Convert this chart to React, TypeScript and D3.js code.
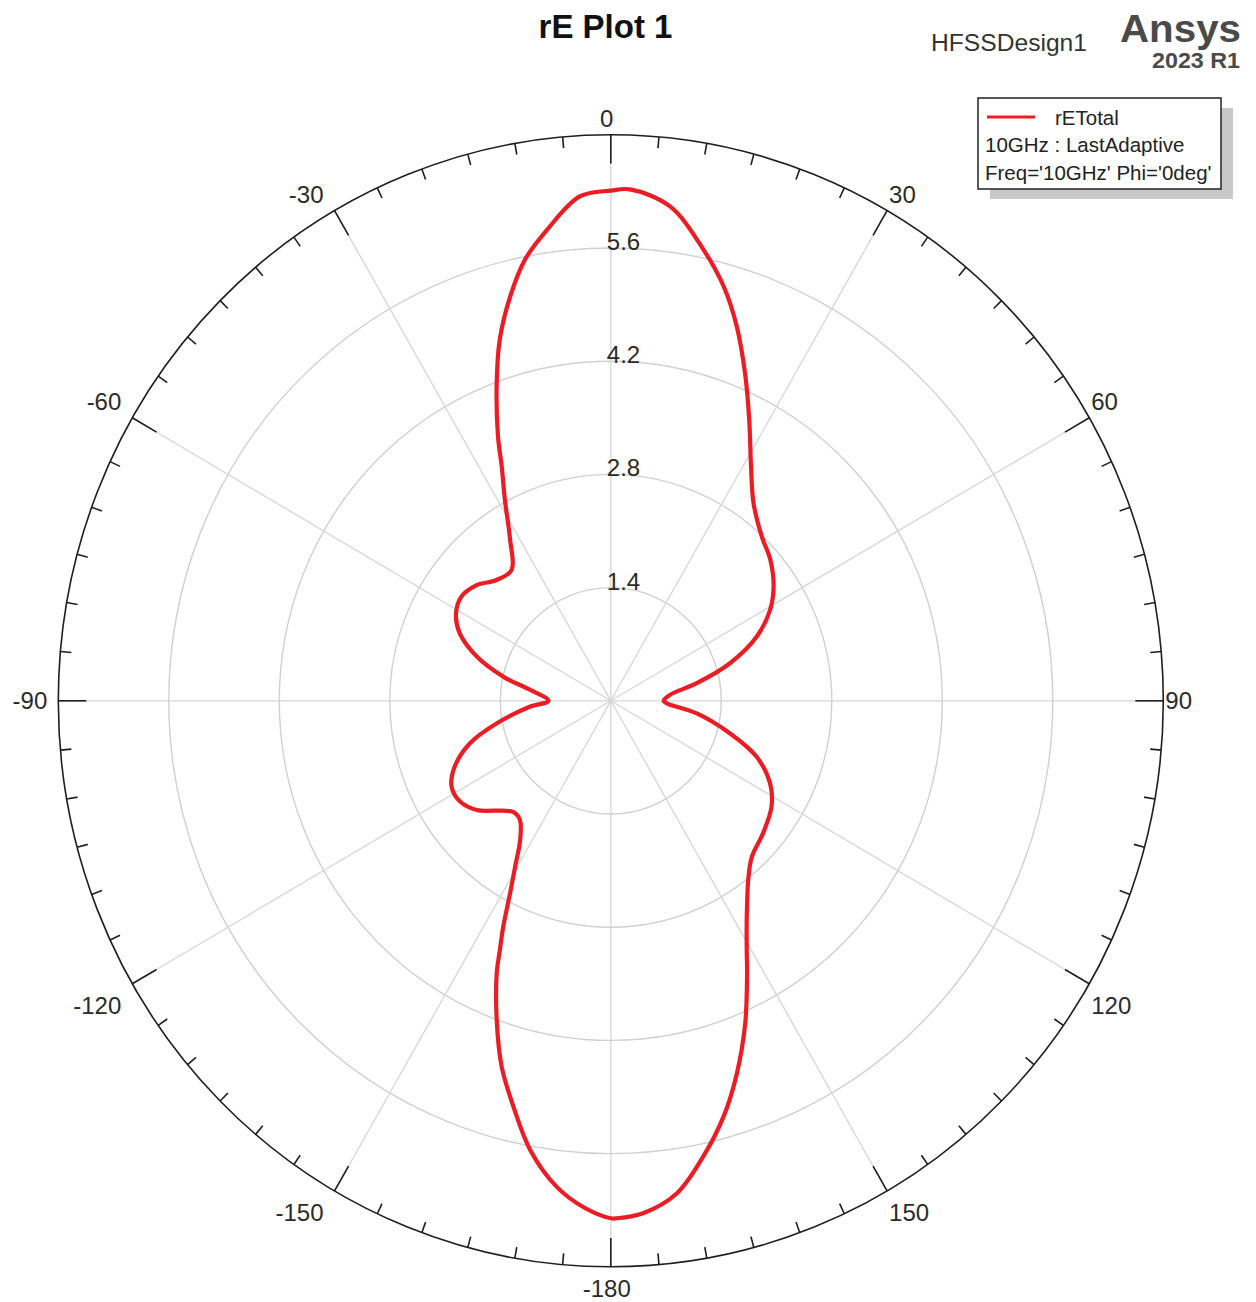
import * as React from "react";
import * as d3 from "d3";

// rETotal vs theta (deg), Phi = 0deg
const thetaDeg = [
  -180, -176.8, -173.5, -169.6, -166.2, -163.0, -160.1, -156.8, -155.5, -154.0,
  -151.8, -149.4, -146.3, -142.0, -138.0, -128.5, -123.1, -117.8, -112.4, -106.4,
  -100.9, -94.1, -90, -82.5, -77.7, -72.2, -66.4, -61.1, -55.7, -49.9,
  -44.1, -37.8, -32.7, -28.4, -25.5, -23.6, -20.4, -17.5, -14.3, -11.3,
  -7.9, -3.6, 0, 2.2, 7.0, 11.9, 15.6, 19.0, 22.8, 26.8,
  31.5, 36.5, 43.3, 49.2, 55.6, 60.9, 66.8, 72.9, 78.7, 84.5,
  90, 92.5, 98.1, 104.9, 110.5, 116.8, 122.7, 130.3, 137.2, 141.3,
  147.2, 150.8, 152.9, 156.9, 160.9, 164.5, 168.3, 172.2, 176.3, 179.3,
];
const rETotal = [
  6.4, 6.27, 6.05, 5.65, 5.17, 4.73, 4.24, 3.67, 3.39, 3.11,
  2.7, 2.38, 2.07, 1.87, 1.85, 2.17, 2.28, 2.28, 2.14, 1.86,
  1.47, 1.03, 0.79, 1.03, 1.39, 1.78, 2.09, 2.24, 2.29, 2.22,
  2.08, 2.05, 2.36, 2.82, 3.21, 3.57, 4.15, 4.68, 5.16, 5.56,
  5.88, 6.25, 6.31, 6.33, 6.16, 5.7, 5.32, 4.9, 4.39, 3.89,
  3.4, 3.04, 2.79, 2.67, 2.5, 2.31, 2.01, 1.58, 1.11, 0.75,
  0.67, 0.71, 1.1, 1.56, 1.97, 2.26, 2.42, 2.53, 2.63, 2.79,
  3.18, 3.53, 3.79, 4.34, 4.88, 5.34, 5.76, 6.15, 6.35, 6.4,
];

const ringValues = [1.4, 2.8, 4.2, 5.6];
const rMax = 7;
const labelAngles = [0, 30, 60, 90, 120, 150, 180, -150, -120, -90, -60, -30];
const labelTexts = ["0", "30", "60", "90", "120", "150", "-180", "-150", "-120", "-90", "-60", "-30"];

const W = 1256;
const H = 1302;
const cx = 610.8;
const cy = 700.8;
const font = "'Liberation Sans', Arial, sans-serif";
const capH = 17.2;

// the plot is slightly taller than wide
const rx = d3.scaleLinear().domain([0, rMax]).range([0, 552.5]);
const ry = d3.scaleLinear().domain([0, rMax]).range([0, 566]);

const pt = (deg: number, v: number): [number, number] => {
  const a = (deg * Math.PI) / 180;
  return [cx + rx(v) * Math.sin(a), cy - ry(v) * Math.cos(a)];
};

// place an angle label just outside the rim, HFSS-style
const labelPos = (deg: number, neg: boolean) => {
  const a = (deg * Math.PI) / 180;
  const s = Math.sin(a);
  const c = Math.cos(a);
  const [px, py] = pt(deg, rMax);
  let x = px - 4;
  let anchor = "middle";
  if (s > 0.1) {
    x = px + 2;
    anchor = "start";
  } else if (s < -0.1) {
    x = px - (neg ? 11 : 3);
    anchor = "end";
  }
  let y = py + capH / 2;
  if (c > 0.1) y = py - 8;
  else if (c < -0.1) y = py + 13 + capH;
  return { x, y, anchor };
};

export default function App() {
  const pts = thetaDeg.map((t, i) => pt(t, rETotal[i]));
  const path = d3.line().curve(d3.curveCatmullRomClosed.alpha(0.5))(pts as any);

  const ticks = d3.range(-180, 180, 5);

  return (
    <svg
      width={W}
      height={H}
      style={{ position: "absolute", left: 0, top: 0, background: "#fff" }}
      fontFamily={font}
    >
      {/* rings */}
      {ringValues.map(v => (
        <ellipse key={v} cx={cx} cy={cy} rx={rx(v)} ry={ry(v)} fill="none" stroke="#d0d0d0" strokeWidth={1.4} />
      ))}
      {/* spokes */}
      {d3.range(0, 360, 30).map(a => {
        const [x, y] = pt(a, rMax);
        return <line key={a} x1={cx} y1={cy} x2={x} y2={y} stroke="#d6d6d6" strokeWidth={1.3} />;
      })}
      {/* outer circle + ticks */}
      <ellipse cx={cx} cy={cy} rx={rx(rMax)} ry={ry(rMax)} fill="none" stroke="#1e1e1e" strokeWidth={1.6} />
      {ticks.map(t => {
        const major = t % 30 === 0;
        const len = major ? 28 : 11;
        const [x1, y1] = pt(t, rMax);
        const [x2, y2] = pt(t, rMax * (1 - len / rx(rMax)));
        return <line key={t} x1={x1} y1={y1} x2={x2} y2={y2} stroke="#1e1e1e" strokeWidth={1.6} />;
      })}
      {/* angle labels */}
      {labelAngles.map((a, i) => {
        const p = labelPos(a, labelTexts[i].startsWith("-"));
        return (
          <text key={a} x={p.x} y={p.y} textAnchor={p.anchor} fontSize={24} fill="#2a2a2a">
            {labelTexts[i]}
          </text>
        );
      })}
      {/* radial labels */}
      {ringValues.map(v => (
        <text key={v} x={cx - 4} y={cy - ry(v) + 2} fontSize={24} fill="#2a2a2a">
          {v.toFixed(1)}
        </text>
      ))}
      {/* trace */}
      <path d={path || ""} fill="none" stroke="#ec1c24" strokeWidth={4.2} strokeLinejoin="round" />

      {/* title + branding */}
      <text x={605.5} y={38} textAnchor="middle" fontSize={33} fontWeight="bold" fill="#111">
        rE Plot 1
      </text>
      <text x={931} y={51} fontSize={24.5} fill="#333" textLength={156} lengthAdjust="spacingAndGlyphs">
        HFSSDesign1
      </text>
      <text x={1241} y={42} textAnchor="end" fontSize={38} fontWeight="bold" fill="#4a4a4a" textLength={121} lengthAdjust="spacingAndGlyphs">
        Ansys
      </text>
      <text x={1240} y={68} textAnchor="end" fontSize={22} fontWeight="bold" fill="#4a4a4a" textLength={88} lengthAdjust="spacingAndGlyphs">
        2023 R1
      </text>

      {/* legend */}
      <rect x={990} y={108} width={243} height={91} fill="#c8c8c8" />
      <rect x={978} y={98} width={243} height={91} fill="#fff" stroke="#222" strokeWidth={1.5} />
      <line x1={987} y1={117} x2={1035} y2={117} stroke="#ec1c24" strokeWidth={3} />
      <text x={1055} y={125} fontSize={20.5} fill="#222">rETotal</text>
      <text x={985} y={152} fontSize={20.5} fill="#222">10GHz : LastAdaptive</text>
      <text x={985} y={180} fontSize={20.5} fill="#222">Freq='10GHz' Phi='0deg'</text>
    </svg>
  );
}
